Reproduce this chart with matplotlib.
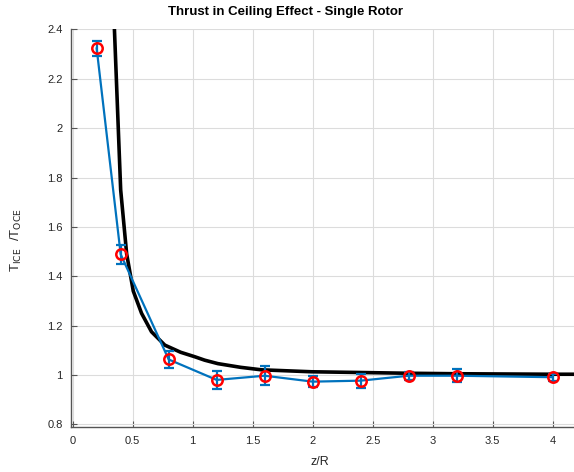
import matplotlib
matplotlib.use("Agg")
import matplotlib.pyplot as plt

# Theoretical curve
theory_x = [0.34, 0.40, 0.45, 0.505, 0.574, 0.657, 0.768, 0.9, 1.017, 1.1, 1.21, 1.4, 1.572, 1.99, 2.4, 2.8, 3.2, 3.6, 4.0, 4.2]
theory_y = [2.50, 1.75, 1.49, 1.34, 1.25, 1.175, 1.121, 1.092, 1.074, 1.060, 1.046, 1.031, 1.021, 1.013, 1.010, 1.007, 1.005, 1.004, 1.003, 1.003]

# Measurements
meas_x = [0.2, 0.4, 0.8, 1.2, 1.6, 2.0, 2.4, 2.8, 3.2, 4.0]
meas_y = [2.323, 1.489, 1.063, 0.980, 0.997, 0.973, 0.977, 0.997, 0.997, 0.991]
meas_err = [0.032, 0.039, 0.034, 0.037, 0.038, 0.022, 0.028, 0.017, 0.026, 0.015]

xticks = [0, 0.5, 1, 1.5, 2, 2.5, 3, 3.5, 4]
xtick_labels = ["0", "0.5", "1", "1.5", "2", "2.5", "3", "3.5", "4"]
yticks = [0.8, 1.0, 1.2, 1.4, 1.6, 1.8, 2.0, 2.2, 2.4]
ytick_labels = ["0.8", "1", "1.2", "1.4", "1.6", "1.8", "2", "2.2", "2.4"]

plt.rcParams['font.family'] = ['Liberation Sans', 'DejaVu Sans']
W, H = 574, 472
fig = plt.figure(figsize=(W / 100, H / 100), dpi=100)
ax = fig.add_axes([71 / W, 1 - 427.3 / H, 1 - 71 / W, (427.3 - 28.5) / H])

axcol = '#262626'
ax.plot(theory_x, theory_y, color='black', lw=2.6, zorder=3)
ax.errorbar(meas_x, meas_y, yerr=meas_err, color='#0072BD', lw=1.6,
            elinewidth=1.6, capsize=3.5, capthick=1.6, zorder=4)
ax.plot(meas_x, meas_y, linestyle='none', marker='o', ms=7.5, mfc='none',
        mec='#FF0000', mew=1.8, zorder=5)

ax.set_xlim(-0.014, 4.178)
ax.set_ylim(0.788, 2.404)
ax.set_xticks(xticks)
ax.set_xticklabels(xtick_labels)
ax.set_yticks(yticks)
ax.set_yticklabels(ytick_labels)
ax.grid(True, color='#dcdcdc', lw=0.8)
ax.set_axisbelow(True)
for s in ['top', 'right']:
    ax.spines[s].set_visible(False)
for s in ['left', 'bottom']:
    ax.spines[s].set_color('#555555')
    ax.spines[s].set_linewidth(1.0)
ax.tick_params(direction='in', length=4, colors=axcol, labelsize=8,
               width=0.8, color='#555555')
ax.tick_params(axis='x', pad=6)
ax.tick_params(axis='y', pad=6)

fig.text(285 / W, 1 - 12 / H, 'Thrust in Ceiling Effect - Single Rotor',
         ha='center', va='center', fontsize=9.5, fontweight='bold', color='black')
fig.text(320 / W, 1 - 462 / H, 'z/R', ha='center', va='center', fontsize=9, color=axcol)
fig.text(16 / W, 1 - 240 / H, r'T$_{\mathrm{ICE}}$  /T$_{\mathrm{OCE}}$', ha='center', va='center',
         rotation=90, fontsize=9.5, color=axcol)

fig.savefig('out.png', dpi=100)
